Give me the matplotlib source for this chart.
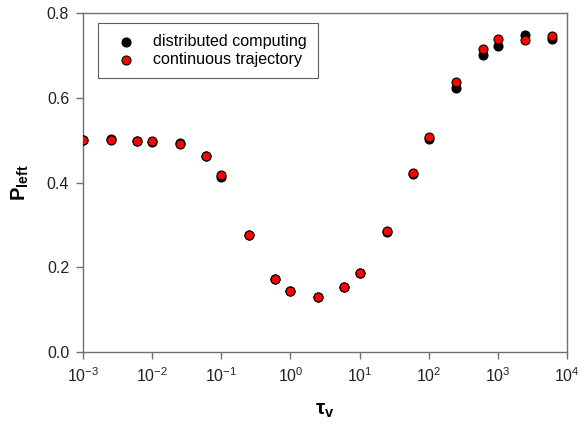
import numpy as np
import matplotlib.pyplot as plt

plt.rcParams["font.family"] = ["Liberation Sans", "DejaVu Sans"]
plt.rcParams["mathtext.fontset"] = "custom"
plt.rcParams["mathtext.rm"] = "Liberation Sans"
plt.rcParams["mathtext.it"] = "Liberation Sans:italic"
plt.rcParams["mathtext.bf"] = "Liberation Sans:bold"
plt.rcParams["mathtext.bfit"] = "Liberation Sans:bold:italic"

# tau_v values (same for both series)
tau = [1e-3, 2.5e-3, 6e-3, 1e-2, 2.5e-2, 6e-2, 1e-1, 2.5e-1, 6e-1, 1, 2.5, 6,
       10, 25, 60, 100, 250, 600, 1000, 2500, 6000]

# P_left
p_distributed = [0.500, 0.503, 0.499, 0.495, 0.493, 0.462, 0.413, 0.277, 0.172,
                 0.143, 0.130, 0.153, 0.186, 0.284, 0.420, 0.502, 0.623, 0.700,
                 0.723, 0.748, 0.739]
p_continuous = [0.500, 0.500, 0.499, 0.497, 0.492, 0.463, 0.417, 0.277, 0.173,
                0.144, 0.130, 0.153, 0.186, 0.285, 0.422, 0.507, 0.637, 0.715,
                0.738, 0.737, 0.746]

fig = plt.figure(figsize=(5.79, 4.24), dpi=100)
ax = fig.add_axes([0.1434, 0.1698, 0.9793 - 0.1434, 0.9693 - 0.1698])

ax.scatter(tau, p_distributed, s=42, c="black", edgecolors="black",
           linewidths=0.8, label="distributed computing", zorder=3)
ax.scatter(tau, p_continuous, s=42, c="red", edgecolors="black",
           linewidths=0.8, label="continuous trajectory", zorder=4)

ax.set_xscale("log")
ax.set_xlim(1e-3, 1e4)
ax.set_ylim(0, 0.8)
ax.set_xticks([1e-3, 1e-2, 1e-1, 1, 10, 100, 1000, 1e4])
ax.xaxis.set_minor_locator(plt.NullLocator())
ax.set_yticks(np.arange(0, 0.81, 0.2))
ax.set_yticklabels([f"{v:.1f}" for v in np.arange(0, 0.81, 0.2)])

for sp in ax.spines.values():
    sp.set_color("#707070")
    sp.set_linewidth(1.0)
ax.tick_params(axis="both", direction="out", length=5, width=1.0,
               color="#707070", labelsize=11.5, labelcolor="#222222", pad=5)

ax.set_xlabel(r"$\mathbf{\tau_v}$", fontsize=15, labelpad=12)
ax.set_ylabel(r"$\mathbf{P_{left}}$", fontsize=14.5, labelpad=11)

leg = ax.legend(loc="upper left", bbox_to_anchor=(0.0304, 0.971),
                borderaxespad=0, frameon=True, fancybox=False,
                edgecolor="#333333", fontsize=11.6, handletextpad=0.62,
                borderpad=0.7, labelspacing=0.17, handlelength=2.1)
leg.get_frame().set_linewidth(0.8)

fig.savefig("out.png", dpi=100)
